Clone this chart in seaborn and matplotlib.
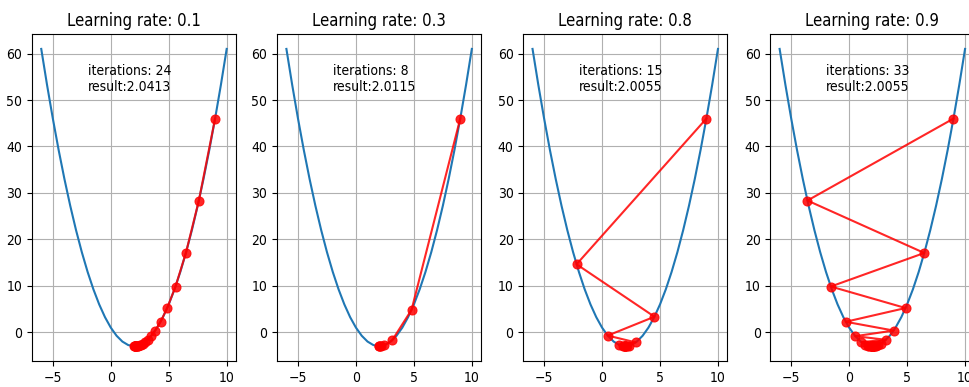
"""
Gradient descent on f(x) = (x-2)^2 - 3 for four learning rates.
"""

import matplotlib
matplotlib.use("Agg")
import matplotlib.pyplot as plt
import seaborn as sns

# parabola
CURVE_X = [-6, -5.5, -5, -4.5, -4, -3.5, -3, -2.5, -2, -1.5, -1, -0.5, 0, 0.5, 1, 1.5,
           2, 2.5, 3, 3.5, 4, 4.5, 5, 5.5, 6, 6.5, 7, 7.5, 8, 8.5, 9, 9.5, 10]
CURVE_Y = [61, 53.25, 46, 39.25, 33, 27.25, 22, 17.25, 13, 9.25, 6, 3.25, 1, -0.75, -2, -2.75,
           -3, -2.75, -2, -0.75, 1, 3.25, 6, 9.25, 13, 17.25, 22, 27.25, 33, 39.25, 46, 53.25, 61]

LEARNING_RATES = [0.1, 0.3, 0.8, 0.9]
ITERATIONS = [24, 8, 15, 33]
RESULTS = ["2.0413", "2.0115", "2.0055", "2.0055"]

# descent paths
LR01_X = [9, 7.6, 6.48, 5.584, 4.867, 4.294, 3.835, 3.468, 3.174, 2.94, 2.752, 2.601,
          2.481, 2.385, 2.308, 2.246, 2.197, 2.158, 2.126, 2.101, 2.081, 2.065, 2.052, 2.041]
LR01_Y = [46, 28.36, 17.07, 9.85, 5.22, 2.26, 0.37, -0.84, -1.62, -2.12, -2.43, -2.64,
          -2.77, -2.85, -2.91, -2.94, -2.96, -2.98, -2.98, -2.99, -2.99, -3.0, -3.0, -3.0]

LR03_X = [9, 4.8, 3.12, 2.448, 2.179, 2.072, 2.029, 2.0115]
LR03_Y = [46, 4.84, -1.75, -2.8, -2.97, -2.99, -3.0, -3.0]

LR08_X = [9, -2.2, 4.52, 0.488, 2.907, 1.456, 2.327, 1.804, 2.118, 1.929, 2.042,
          1.975, 2.015, 1.991, 2.0055]
LR08_Y = [46, 14.64, 3.35, -0.71, -2.18, -2.7, -2.89, -2.96, -2.99, -2.99, -3.0,
          -3.0, -3.0, -3.0, -3.0]

LR09_X = [9, -3.6, 6.48, -1.584, 4.867, -0.294, 3.835, 0.532, 3.174, 1.06, 2.752,
          1.399, 2.481, 1.615, 2.308, 1.754, 2.197, 1.842, 2.126, 1.899, 2.081, 1.935,
          2.052, 1.959, 2.033, 1.973, 2.021, 1.983, 2.014, 1.989, 2.009, 1.993, 2.0055]
LR09_Y = [46, 28.36, 17.07, 9.85, 5.22, 2.26, 0.37, -0.84, -1.62, -2.12, -2.43,
          -2.64, -2.77, -2.85, -2.91, -2.94, -2.96, -2.98, -2.98, -2.99, -2.99, -3.0,
          -3.0, -3.0, -3.0, -3.0, -3.0, -3.0, -3.0, -3.0, -3.0, -3.0, -3.0]

PATHS = [(LR01_X, LR01_Y), (LR03_X, LR03_Y), (LR08_X, LR08_Y), (LR09_X, LR09_Y)]


def main():
    plt.rcParams["font.family"] = ["DejaVu Sans"]
    plt.rcParams["font.stretch"] = "condensed"
    fig = plt.figure(figsize=(9.69, 3.87), dpi=100)

    lefts = [0.033, 0.286, 0.540, 0.795]
    for i, lr in enumerate(LEARNING_RATES):
        ax = fig.add_axes([lefts[i], 0.067, 0.2105, 0.845])
        sns.lineplot(x=CURVE_X, y=CURVE_Y, sort=False, estimator=None,
                     color="C0", linewidth=1.5, ax=ax)
        px, py = PATHS[i]
        sns.lineplot(x=px, y=py, sort=False, estimator=None, color="red",
                     linewidth=1.5, marker="o", markersize=6.5,
                     markeredgecolor="red", alpha=0.85, ax=ax)
        ax.text(-2, 52, f"iterations: {ITERATIONS[i]}\nresult:{RESULTS[i]}", fontsize=10)
        ax.set_title(f"Learning rate: {lr}", fontsize=12)
        ax.set_xticks([-5, 0, 5, 10])
        ax.set_yticks([0, 10, 20, 30, 40, 50, 60])
        ax.grid(True, color="#b0b0b0", linewidth=0.8)
        ax.set_axisbelow(True)

    fig.savefig("out.png", dpi=100)
    plt.close(fig)


if __name__ == "__main__":
    main()
